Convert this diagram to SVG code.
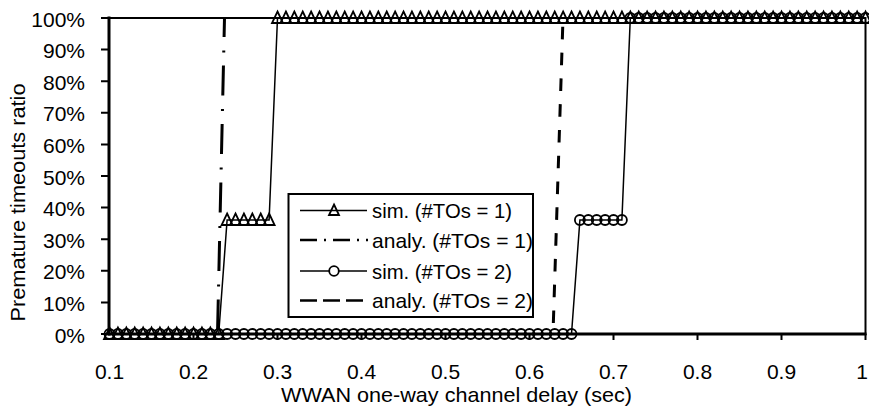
<svg xmlns="http://www.w3.org/2000/svg" width="869" height="414" viewBox="0 0 869 414">
  <style>
    text { font-family: "Liberation Sans", Arial, sans-serif; font-size: 21px; fill: #000; }
    .ytick { text-anchor: end; }
    .xtick { text-anchor: middle; }
    .frame { fill: none; stroke: #000; stroke-width: 2; }
    .axis { stroke: #000; stroke-width: 3; fill: none; }
    .tick { stroke: #000; stroke-width: 2; }
    .sim { fill: none; stroke: #000; stroke-width: 1.5; }
    .sim1 { marker-start: url(#tri); marker-mid: url(#tri); marker-end: url(#tri); }
    .sim2 { marker-start: url(#circ); marker-mid: url(#circ); marker-end: url(#circ); }
    .analy1 { fill: none; stroke: #000; stroke-width: 3; stroke-dasharray: 30 13.5 2 13; stroke-dashoffset: 11; }
    .analy2 { fill: none; stroke: #000; stroke-width: 3; stroke-dasharray: 12.6 13.2; stroke-dashoffset: 17; }
    .mk { fill: none; stroke: #000; stroke-width: 1.8; }
  </style>
  <defs>
    <marker id="tri" markerUnits="userSpaceOnUse" markerWidth="18" markerHeight="18" viewBox="-9 -9 18 18" refX="0" refY="0" orient="0" style="overflow:visible">
      <path class="mk" d="M0,-6.5 L5.5,5 L-5.5,5 Z"/>
    </marker>
    <marker id="circ" markerUnits="userSpaceOnUse" markerWidth="18" markerHeight="18" viewBox="-9 -9 18 18" refX="0" refY="0" orient="0" style="overflow:visible">
      <circle class="mk" cx="0" cy="0" r="5"/>
    </marker>
  </defs>

  <rect width="869" height="414" fill="#fff"/>

  <!-- plot area border -->
  <rect id="plot-area" class="frame" x="109" y="18" width="756.5" height="316"/>

  <!-- series -->
  <g id="connectors">
    <polyline id="sim-tos1" class="sim sim1" points="109.5,334 117.9,334 126.3,334 134.7,334 143.1,334 151.5,334 159.9,334 168.3,334 176.7,334 185.1,334 193.5,334 201.9,334 210.3,334 218.7,334 227.1,220 235.5,220 243.9,220 252.3,220 260.7,220 269.1,220 277.5,18 285.9,18 294.3,18 302.7,18 311.1,18 319.5,18 327.9,18 336.3,18 344.7,18 353.1,18 361.5,18 369.9,18 378.3,18 386.7,18 395.1,18 403.5,18 411.9,18 420.3,18 428.7,18 437.1,18 445.5,18 453.9,18 462.3,18 470.7,18 479.1,18 487.5,18 495.9,18 504.3,18 512.7,18 521.1,18 529.5,18 537.9,18 546.3,18 554.7,18 563.1,18 571.5,18 579.9,18 588.3,18 596.7,18 605.1,18 613.5,18 621.9,18 630.3,18 638.7,18 647.1,18 655.5,18 663.9,18 672.3,18 680.7,18 689.1,18 697.5,18 705.9,18 714.3,18 722.7,18 731.1,18 739.5,18 747.9,18 756.3,18 764.7,18 773.1,18 781.5,18 789.9,18 798.3,18 806.7,18 815.1,18 823.5,18 831.9,18 840.3,18 848.7,18 857.1,18 865.5,18"/>
    <line id="analy-tos1" class="analy1" x1="224.5" y1="18" x2="217.5" y2="334"/>
    <polyline id="sim-tos2" class="sim sim2" points="109.5,334 117.9,334 126.3,334 134.7,334 143.1,334 151.5,334 159.9,334 168.3,334 176.7,334 185.1,334 193.5,334 201.9,334 210.3,334 218.7,334 227.1,334 235.5,334 243.9,334 252.3,334 260.7,334 269.1,334 277.5,334 285.9,334 294.3,334 302.7,334 311.1,334 319.5,334 327.9,334 336.3,334 344.7,334 353.1,334 361.5,334 369.9,334 378.3,334 386.7,334 395.1,334 403.5,334 411.9,334 420.3,334 428.7,334 437.1,334 445.5,334 453.9,334 462.3,334 470.7,334 479.1,334 487.5,334 495.9,334 504.3,334 512.7,334 521.1,334 529.5,334 537.9,334 546.3,334 554.7,334 563.1,334 571.5,334 579.9,220 588.3,220 596.7,220 605.1,220 613.5,220 621.9,220 630.3,18 638.7,18 647.1,18 655.5,18 663.9,18 672.3,18 680.7,18 689.1,18 697.5,18 705.9,18 714.3,18 722.7,18 731.1,18 739.5,18 747.9,18 756.3,18 764.7,18 773.1,18 781.5,18 789.9,18 798.3,18 806.7,18 815.1,18 823.5,18 831.9,18 840.3,18 848.7,18 857.1,18 865.5,18"/>
    <line id="analy-tos2" class="analy2" x1="563" y1="18" x2="553" y2="334"/>
  </g>

  <!-- axes and ticks -->
  <g id="axes">
    <line class="axis" x1="109" y1="16.5" x2="109" y2="335.5"/>
    <line class="axis" x1="107.5" y1="334" x2="866.5" y2="334"/>
    <path class="tick" d="M101,334H109 M101,302.4H109 M101,270.8H109 M101,239.2H109 M101,207.6H109 M101,176H109 M101,144.4H109 M101,112.8H109 M101,81.2H109 M101,49.6H109 M101,18H109"/>
    <path class="tick" d="M193.5,334V340 M277.5,334V340 M361.5,334V340 M445.5,334V340 M529.5,334V340 M613.5,334V340 M697.5,334V340 M781.5,334V340 M865.5,334V340"/>
  </g>

  <g id="y-labels">
    <text class="ytick" x="85" y="342.5">0%</text>
    <text class="ytick" x="85" y="310.9">10%</text>
    <text class="ytick" x="85" y="279.3">20%</text>
    <text class="ytick" x="85" y="247.7">30%</text>
    <text class="ytick" x="85" y="216.1">40%</text>
    <text class="ytick" x="85" y="184.5">50%</text>
    <text class="ytick" x="85" y="152.9">60%</text>
    <text class="ytick" x="85" y="121.3">70%</text>
    <text class="ytick" x="85" y="89.7">80%</text>
    <text class="ytick" x="85" y="58.1">90%</text>
    <text class="ytick" x="85" y="26.5">100%</text>
  </g>

  <g id="x-labels">
    <text class="xtick" x="109.5" y="379">0.1</text>
    <text class="xtick" x="193.5" y="379">0.2</text>
    <text class="xtick" x="277.5" y="379">0.3</text>
    <text class="xtick" x="361.5" y="379">0.4</text>
    <text class="xtick" x="445.5" y="379">0.5</text>
    <text class="xtick" x="529.5" y="379">0.6</text>
    <text class="xtick" x="613.5" y="379">0.7</text>
    <text class="xtick" x="697.5" y="379">0.8</text>
    <text class="xtick" x="781.5" y="379">0.9</text>
    <text class="xtick" x="862" y="379">1</text>
  </g>

  <text id="x-title" x="281" y="402" textLength="351" lengthAdjust="spacingAndGlyphs">WWAN one-way channel delay (sec)</text>
  <text id="y-title" transform="translate(25,202.5) rotate(-90)" text-anchor="middle" textLength="238" lengthAdjust="spacingAndGlyphs">Premature timeouts ratio</text>

  <!-- legend -->
  <g id="legend">
    <rect x="288.5" y="194" width="244.5" height="123" fill="#fff" stroke="#000" stroke-width="2"/>
    <line class="sim" x1="300" y1="210.5" x2="367" y2="210.5"/>
    <path class="mk" fill="#fff" d="M334,204.5 L339,215 L329,215 Z"/>
    <text x="372" y="218" textLength="140" lengthAdjust="spacingAndGlyphs">sim. (#TOs = 1)</text>
    <line x1="300" y1="240" x2="368" y2="240" stroke="#000" stroke-width="2.5" stroke-dasharray="17 7 2 7"/>
    <text x="372" y="247.5" textLength="161" lengthAdjust="spacingAndGlyphs">analy. (#TOs = 1)</text>
    <line class="sim" x1="300" y1="271" x2="367" y2="271"/>
    <circle class="mk" cx="334" cy="271" r="4.8" style="fill:#fff"/>
    <text x="372" y="278.5" textLength="140" lengthAdjust="spacingAndGlyphs">sim. (#TOs = 2)</text>
    <line x1="300" y1="300.5" x2="368" y2="300.5" stroke="#000" stroke-width="2.5" stroke-dasharray="17 6"/>
    <text x="372" y="308" textLength="161" lengthAdjust="spacingAndGlyphs">analy. (#TOs = 2)</text>
  </g>
</svg>
